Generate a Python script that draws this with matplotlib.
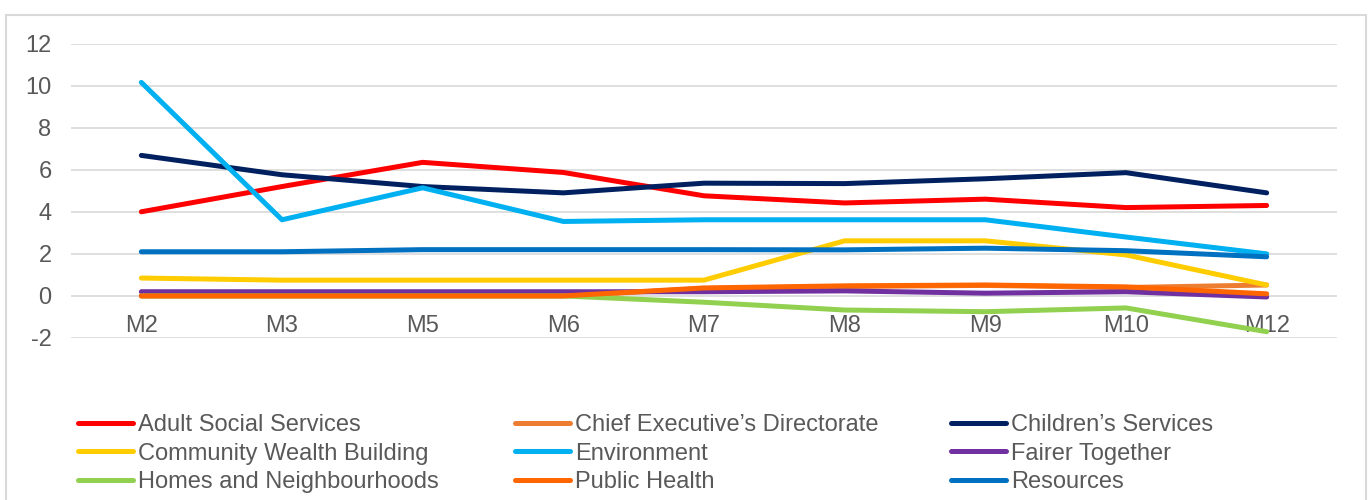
import matplotlib
matplotlib.use("Agg")
import matplotlib.pyplot as plt
from matplotlib.patches import Rectangle
from matplotlib.lines import Line2D

plt.rcParams["font.family"] = ["Liberation Sans", "DejaVu Sans"]
plt.rcParams["axes.unicode_minus"] = False

months = ["M2", "M3", "M5", "M6", "M7", "M8", "M9", "M10", "M12"]

adult_social = [4.0, 5.2, 6.35, 5.87, 4.76, 4.42, 4.6, 4.2, 4.3]
chief_exec = [0.0, 0.0, 0.0, 0.0, 0.35, 0.45, 0.5, 0.4, 0.52]
childrens = [6.68, 5.76, 5.2, 4.9, 5.36, 5.34, 5.57, 5.86, 4.9]
community_wealth = [0.85, 0.75, 0.75, 0.75, 0.75, 2.62, 2.62, 1.95, 0.52]
environment = [10.15, 3.62, 5.14, 3.54, 3.62, 3.62, 3.62, 2.8, 2.0]
fairer_together = [0.2, 0.2, 0.2, 0.2, 0.2, 0.24, 0.13, 0.2, -0.05]
homes = [0.0, 0.0, 0.0, 0.0, -0.3, -0.67, -0.75, -0.57, -1.7]
public_health = [0.0, 0.0, 0.0, 0.0, 0.38, 0.48, 0.52, 0.43, 0.1]
resources = [2.1, 2.1, 2.2, 2.2, 2.2, 2.19, 2.27, 2.15, 1.86]

series = [
    ("Adult Social Services", adult_social, "#FF0000"),
    ("Chief Executive\u2019s Directorate", chief_exec, "#ED7D31"),
    ("Children\u2019s Services", childrens, "#002060"),
    ("Community Wealth Building", community_wealth, "#FFCC00"),
    ("Environment", environment, "#00B0F0"),
    ("Fairer Together", fairer_together, "#7030A0"),
    ("Homes and Neighbourhoods", homes, "#92D050"),
    ("Public Health", public_health, "#FF6600"),
    ("Resources", resources, "#0070C0"),
]

W, H = 1368, 500
fig = plt.figure(figsize=(W / 100, H / 100), dpi=100)
ax = fig.add_axes([71 / W, 1 - 338 / H, (1337 - 71) / W, (338 - 43.5) / H])

text_col = "#595959"
grid_col = "#D9D9D9"
lw = 3.6
fs = 17

handles = []
for name, vals, col in series:
    (ln,) = ax.plot(range(len(months)), vals, color=col, lw=lw,
                    solid_capstyle="round", solid_joinstyle="round", label=name)
    handles.append(ln)

ax.set_xlim(-0.5, len(months) - 0.5)
ax.set_ylim(-2, 12)
ax.set_yticks(range(-2, 13, 2))
ax.yaxis.grid(True, color=grid_col, lw=1.2)
ax.set_axisbelow(True)
for s in ["top", "right", "left"]:
    ax.spines[s].set_visible(False)
ax.spines["bottom"].set_position(("data", 0))
ax.spines["bottom"].set_visible(False)
ax.set_xticks(range(len(months)))
ax.set_xticklabels(months)
ax.tick_params(axis="x", length=0, pad=14, labelsize=fs, labelcolor=text_col)
ax.tick_params(axis="y", length=0, pad=14, labelsize=fs, labelcolor=text_col)

# legend: three columns placed separately
cols_x = [78, 515, 951]
for c in range(3):
    hs = [handles[c], handles[c + 3], handles[c + 6]]
    hs = [Line2D([], [], color=h.get_color(), lw=lw, solid_capstyle="round") for h in hs]
    labels = [series[c][0], series[c + 3][0], series[c + 6][0]]
    fig.legend(hs, labels, loc="upper left",
               bbox_to_anchor=(cols_x[c] / W, 1 - 414 / H),
               frameon=False, borderpad=0, borderaxespad=0,
               handlelength=2.33, handletextpad=0.21, labelspacing=0.28,
               fontsize=fs, labelcolor=text_col)

fig.patches.append(Rectangle((6 / W, -0.02), (1366 - 6) / W, 1.02 - 15 / H,
                             transform=fig.transFigure, fill=False,
                             edgecolor=grid_col, lw=1.5))

fig.savefig("out.png", dpi=100)
